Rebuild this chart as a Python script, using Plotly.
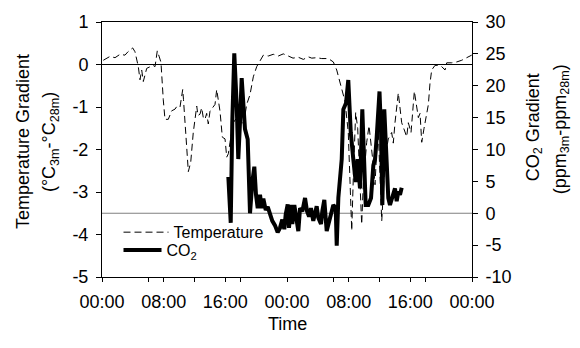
import plotly.graph_objects as go

# Time in hours from the first midnight
temp_hours = [0.17, 1.04, 1.69, 2.34, 2.98, 3.37, 3.98, 4.28, 4.71, 4.93, 5.15, 5.36, 5.80, 6.23, 6.62, 6.88,
              7.17, 7.43, 7.65, 7.95, 8.17, 8.60, 9.04, 9.47, 9.73, 10.12, 10.47, 10.57, 10.90, 11.20, 11.51,
              11.84, 12.29, 12.45, 12.71, 12.93, 13.14, 13.36, 13.58, 13.79, 14.01, 14.31, 14.66, 14.88, 15.09,
              15.31, 15.61, 15.96, 16.18, 16.39, 16.61, 17.03, 17.48, 17.90, 18.33, 18.77, 19.20, 19.63, 20.07,
              20.50, 20.93, 21.57, 22.22, 22.87, 23.52, 24.17, 24.78, 25.47, 26.12, 26.77, 27.21, 27.85, 28.50,
              29.36, 30.01, 30.45, 30.88, 31.31, 31.53, 31.95, 32.17, 32.40, 32.61, 32.91, 33.17, 33.47, 33.69,
              33.90, 34.34, 34.64, 34.90, 35.20, 35.42, 35.64, 35.85, 36.07, 36.29, 36.50, 36.72, 36.93, 37.14,
              37.58, 37.79, 38.01, 38.44, 38.88, 39.31, 39.53, 39.74, 40.09, 40.52, 40.83, 41.04, 41.26, 41.48,
              41.78, 42.13, 42.34, 42.55, 42.77, 43.20, 43.63, 44.07, 44.50, 44.72, 45.37, 46.02, 46.67, 47.31,
              47.96]
temp_gradient = [0.10, 0.19, 0.16, 0.24, 0.22, 0.30, 0.39, 0.30, -0.05, -0.36, -0.13, -0.40, -0.09, -0.05, -0.02, -0.05,
                 0.32, 0.18, 0.05, -0.83, -1.29, -1.29, -1.09, -1.05, -0.98, -1.00, -0.59, -0.82, -1.83, -2.52, -2.30,
                 -1.60, -0.98, -1.20, -1.17, -1.02, -1.25, -1.29, -1.15, -1.40, -1.10, -1.02, -0.94, -0.59, -0.85,
                 -1.10, -1.71, -1.75, -2.18, -2.10, -1.83, -1.37, -1.25, -1.25, -1.44, -0.94, -0.71, -0.29, -0.05,
                 0.10, 0.22, 0.20, 0.24, 0.20, 0.25, 0.20, 0.15, 0.17, 0.12, 0.18, 0.15, 0.16, 0.14,
                 0.14, 0.06, -0.13, -0.44, -0.75, -0.87, -1.60, -2.60, -3.91, -2.60, -1.13, -1.50, -2.90, -3.76,
                 -2.80, -1.83, -1.44, -1.83, -2.37, -2.83, -2.00, -1.60, -2.50, -3.68, -3.00, -2.20, -1.98, -1.75,
                 -1.60, -1.85, -1.37, -0.67, -1.37, -1.60, -1.70, -1.37, -1.60, -0.63, -1.05, -1.25, -1.15, -1.83,
                 -1.50, -1.10, -0.94, -0.44, -0.13, -0.02, -0.02, -0.05, -0.13, 0.04, 0.04, 0.06, 0.10, 0.16,
                 0.22]

co2_hours = [16.39, 16.70, 16.90, 17.16, 17.48, 17.68, 17.90, 18.12, 18.33, 18.55, 18.90, 19.20, 19.50, 19.76,
             19.98, 20.20, 20.50, 20.72, 20.93, 21.24, 21.50, 21.80, 22.09, 22.44, 22.79, 23.09, 23.39, 23.65,
             23.83, 24.09, 24.26, 24.52, 24.69, 24.95, 25.26, 25.47, 25.69, 25.99, 26.34, 26.60, 26.86, 27.11,
             27.41, 27.63, 27.85, 28.06, 28.41, 28.58, 28.84, 29.15, 29.36, 29.71, 30.01, 30.32, 30.45, 30.66,
             30.88, 31.10, 31.31, 31.66, 31.95, 32.27, 32.60, 32.91, 33.17, 33.47, 33.77, 34.03, 34.21, 34.55,
             34.90, 35.20, 35.42, 35.64, 35.85, 36.00, 36.20, 36.37, 36.62, 36.93, 37.14, 37.36, 37.58, 37.79,
             38.01, 38.23, 38.44, 38.66, 38.88]
co2_gradient = [5.7, -1.5, 14.2, 25.1, 16.8, 8.5, 14.2, 21.2, 17.3, 13.2, 11.6, 0.0, 4.9, 7.3,
                2.9, 0.8, 2.9, 0.8, 2.3, 0.5, 1.0, -0.2, -1.2, -1.9, -3.0, -2.3, -1.0, -2.5,
                -0.2, 1.4, -2.3, 1.3, -1.7, 1.3, -1.2, -2.8, 0.8, 0.3, 2.4, 0.3, -0.5, 0.8,
                -1.2, 0.0, 1.1, -0.7, -1.7, 0.3, 2.1, -2.8, -1.7, 0.3, 1.3, 0.8, -5.1, 2.4,
                5.5, 8.5, 16.3, 17.3, 20.9, 12.7, 8.5, 4.9, 8.5, 3.9, 16.3, 7.5, 1.3, 1.3,
                2.4, 7.5, 8.5, 12.0, 17.0, 19.1, 12.7, 1.3, 16.3, 8.5, 2.4, 1.3, 2.4, 2.9,
                3.9, 1.9, 3.4, 2.9, 4.0]

x_tickvals = [0, 8, 16, 24, 32, 40, 48]
x_ticktext = ["00:00", "08:00", "16:00", "00:00", "08:00", "16:00", "00:00"]
x_minor_tickvals = [6, 12, 18, 30, 36, 42]
y_tickvals = [-5, -4, -3, -2, -1, 0, 1]
y2_tickvals = [-10, -5, 0, 5, 10, 15, 20, 25, 30]

FONT = "Liberation Sans, Arial, sans-serif"

fig = go.Figure()
fig.add_trace(go.Scatter(x=temp_hours, y=temp_gradient, mode="lines", name="Temperature",
                         line=dict(color="black", width=1, dash="7px,4px"), yaxis="y",
                         legend="legend"))
fig.add_trace(go.Scatter(x=co2_hours, y=co2_gradient, mode="lines", name="CO<sub>2</sub>",
                         line=dict(color="black", width=4), yaxis="y2", legend="legend2"))

# zero reference lines
fig.add_shape(type="line", xref="paper", x0=0, x1=1, yref="y", y0=0, y1=0,
              line=dict(color="black", width=1), layer="below")
fig.add_shape(type="line", xref="paper", x0=0, x1=1, yref="y2", y0=0, y1=0,
              line=dict(color="#808080", width=1.2), layer="below")

def px_x(px):
    return (px - 102) / 370.0

def px_y(py):
    return (277 - py) / 259.0

fig.update_layout(
    width=580, height=348,
    margin=dict(l=102, r=108, t=18, b=71),
    plot_bgcolor="white", paper_bgcolor="white",
    font=dict(family=FONT, size=18, color="black"),
    showlegend=True,
    legend=dict(x=px_x(118.5), y=px_y(214.3), xanchor="left", yanchor="top", bgcolor="rgba(0,0,0,0)",
                font=dict(size=16), borderwidth=0, itemwidth=45),
    legend2=dict(x=px_x(118.5), y=px_y(232.5), xanchor="left", yanchor="top", bgcolor="rgba(0,0,0,0)",
                 font=dict(size=16), borderwidth=0, itemwidth=38),
    xaxis=dict(range=[0, 48], tickvals=x_tickvals, ticktext=x_ticktext, ticks="outside",
               ticklen=4, tickwidth=1, tickcolor="black", showline=True, linecolor="black",
               linewidth=1, mirror=True, showgrid=False, zeroline=False,
               tickfont=dict(size=18), ticklabelstandoff=4,
               minor=dict(tickmode="array", tickvals=x_minor_tickvals, ticks="outside",
                          ticklen=4, tickcolor="black", showgrid=False)),
    yaxis=dict(range=[-5, 1], tickvals=y_tickvals, ticktext=[str(v) for v in y_tickvals],
               ticks="outside", ticklen=5, tickwidth=1, tickcolor="black", showline=True,
               linecolor="black", linewidth=1, showgrid=False, zeroline=False,
               tickfont=dict(size=18), ticklabelstandoff=4),
    yaxis2=dict(range=[-10, 30], tickvals=y2_tickvals, ticktext=[str(v) for v in y2_tickvals],
                overlaying="y", side="right", ticks="outside", ticklen=5, tickwidth=1,
                tickcolor="black", showline=True, linecolor="black", linewidth=1,
                showgrid=False, zeroline=False, tickfont=dict(size=18), ticklabelstandoff=4),
)

annots = [
    dict(text="Temperature Gradient", x=px_x(23), y=px_y(140), textangle=-90),
    dict(text="(°C<sub>3m</sub>-°C<sub>28m</sub>)", x=px_x(50), y=px_y(140), textangle=-90),
    dict(text="CO<sub>2</sub> Gradient", x=px_x(534), y=px_y(125), textangle=-90),
    dict(text="(ppm<sub>3m</sub>-ppm<sub>28m</sub>)", x=px_x(561), y=px_y(127), textangle=-90),
    dict(text="Time", x=px_x(287), y=px_y(325), textangle=0),
]
for a in annots:
    fig.add_annotation(xref="paper", yref="paper", showarrow=False, xanchor="center",
                       yanchor="middle", font=dict(size=18, family=FONT, color="black"), **a)

fig.write_html("out.html")
